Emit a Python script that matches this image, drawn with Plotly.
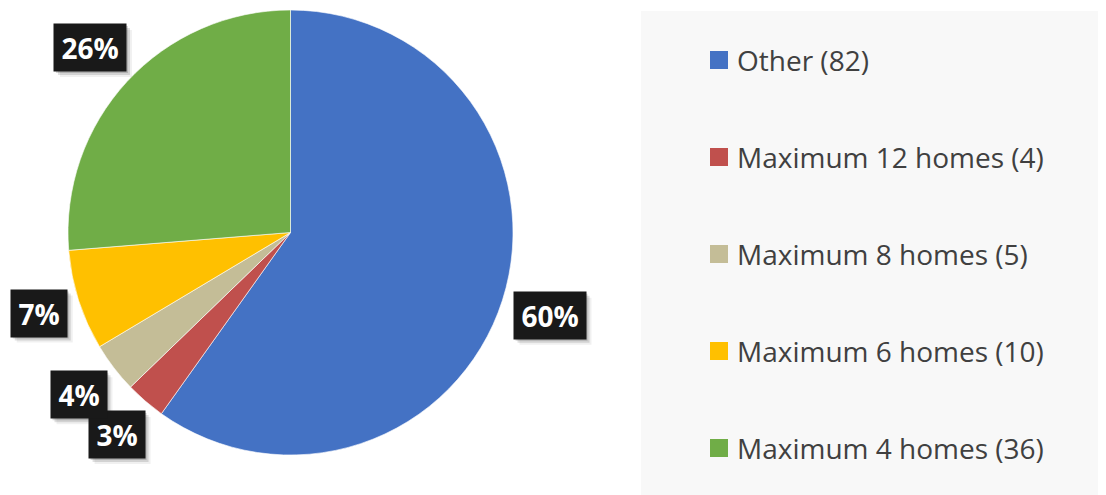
import math
import plotly.graph_objects as go

# ---- data ----
labels = ["Other", "Maximum 12 homes", "Maximum 8 homes", "Maximum 6 homes", "Maximum 4 homes"]
values = [82, 4, 5, 10, 36]
colors = ["#4472C4", "#C0504D", "#C4BD97", "#FFC000", "#70AD47"]

# page body adds an 8px margin; the figure covers the rest of the window
OFF = 8
W, H = 1106 - OFF, 495 - OFF
# pie geometry (window pixels)
CX, CY, R = 290.5, 232.5, 222.5


def px(x):
    return (x - OFF) / W


def py(y):
    return 1 - (y - OFF) / H


fig = go.Figure()
fig.add_trace(go.Pie(
    labels=labels, values=values, sort=False, direction="clockwise", rotation=0,
    marker=dict(colors=colors, line=dict(color="white", width=0.6)),
    textinfo="none", showlegend=False,
    domain=dict(x=[px(CX - R), px(CX + R)], y=[py(CY + R), py(CY - R)]),
))

shapes = []
annotations = []

# legend panel
shapes.append(dict(type="rect", xref="paper", yref="paper", x0=px(641), x1=1.0, y0=0.0, y1=py(11),
                   fillcolor="#F8F8F8", line=dict(width=0), layer="below"))

# data labels (black boxes) placed just outside each slice's mid angle
total = sum(values)
cum = 0
BH = 47
GAP = 8
for v in values:
    frac = v / total
    mid = (cum + frac / 2) * 2 * math.pi
    cum += frac
    txt = f"{round(frac * 100)}%"
    bw = 72 if len(txt) > 2 else 56
    s, c = math.sin(mid), math.cos(mid)
    r = R + GAP + (bw / 2) * abs(s) + (BH / 2) * abs(c)
    lx = CX + r * s
    ly = CY - r * c
    for d, a in [(6, 0.06), (4, 0.12), (2, 0.16)]:
        shapes.append(dict(type="rect", xref="paper", yref="paper",
                           x0=px(lx - bw / 2 + d), x1=px(lx + bw / 2 + d),
                           y0=py(ly + BH / 2 + d), y1=py(ly - BH / 2 + d),
                           fillcolor=f"rgba(0,0,0,{a})", line=dict(width=0)))
    annotations.append(dict(x=px(lx), y=py(ly), xref="paper", yref="paper", text=f"<b>{txt}</b>",
                            xanchor="center", yanchor="middle",
                            showarrow=False, width=bw, height=BH, borderpad=0, bgcolor="#191919",
                            font=dict(family="Open Sans", size=28, color="white")))

# legend entries
for i, (lab, v, c) in enumerate(zip(labels, values, colors)):
    yc = 60 + i * 97
    shapes.append(dict(type="rect", xref="paper", yref="paper", x0=px(710), x1=px(728),
                       y0=py(yc + 9), y1=py(yc - 9), fillcolor=c, line=dict(width=0)))
    annotations.append(dict(x=px(735), y=py(yc), xref="paper", yref="paper", xanchor="left",
                            yanchor="middle", text=f"{lab} ({v})", showarrow=False,
                            font=dict(family="Open Sans", size=28, color="#404040")))

fig.update_layout(width=W, height=H, margin=dict(l=0, r=0, t=0, b=0),
                  paper_bgcolor="white", plot_bgcolor="white",
                  shapes=shapes, annotations=annotations, showlegend=False)
fig.write_html("out.html")
